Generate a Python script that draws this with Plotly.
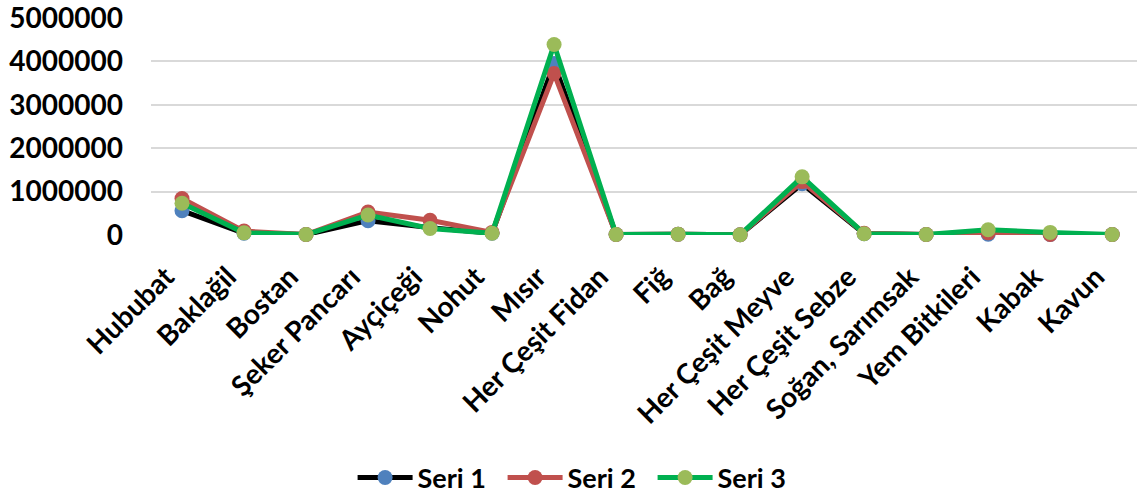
import plotly.graph_objects as go

categories = ['Hububat', 'Baklağil', 'Bostan', 'Şeker Pancarı', 'Ayçiçeği', 'Nohut', 'Mısır',
              'Her Çeşit Fidan', 'Fiğ', 'Bağ', 'Her Çeşit Meyve', 'Her Çeşit Sebze',
              'Soğan, Sarımsak', 'Yem Bitkileri', 'Kabak', 'Kavun']
seri_1 = [560000, 40000, 10000, 330000, 170000, 40000, 3950000, 10000, 20000, 5000,
          1180000, 30000, 10000, 20000, 10000, 10000]
seri_2 = [840000, 90000, 10000, 530000, 340000, 60000, 3720000, 10000, 20000, 5000,
          1230000, 40000, 10000, 50000, 10000, 10000]
seri_3 = [730000, 50000, 10000, 460000, 150000, 40000, 4390000, 10000, 20000, 5000,
          1340000, 30000, 10000, 120000, 60000, 10000]
y_ticks = [0, 1000000, 2000000, 3000000, 4000000, 5000000]

FONT = 'Lato'

fig = go.Figure()
for name, vals, line_col, mark_col in [
    ('Seri 1', seri_1, '#000000', '#4F81BD'),
    ('Seri 2', seri_2, '#C0504D', '#C0504D'),
    ('Seri 3', seri_3, '#00B050', '#9BBB59'),
]:
    fig.add_trace(go.Scatter(
        x=categories, y=vals, name=name, mode='lines+markers',
        line=dict(color=line_col, width=5),
        marker=dict(color=mark_col, size=15, line=dict(width=0)),
        cliponaxis=False
    ))

fig.update_layout(
    width=1137, height=500,
    margin=dict(l=151, r=0, t=18, b=265, autoexpand=False),
    paper_bgcolor='white',
    plot_bgcolor='white',
    font=dict(family=FONT, size=28, color='black'),
    showlegend=True,
    legend=dict(orientation='h', x=0.508, xref='container', xanchor='center',
                y=0.044, yref='container', yanchor='middle',
                font=dict(family=FONT, size=27, color='black', weight='bold'),
                itemwidth=55, entrywidth=80, tracegroupgap=0)
)
fig.update_xaxes(
    type='category', range=[-0.5, 15.4], showgrid=False, showline=False, automargin=False,
    tickangle=-45, ticklabelshift=-16, ticklabelstandoff=19,
    tickfont=dict(family=FONT, size=28, weight='bold')
)
fig.update_yaxes(
    range=[0, 5000000], tickvals=y_ticks, ticktext=[str(v) for v in y_ticks],
    showgrid=True, gridcolor='#D9D9D9', gridwidth=1.5, zeroline=False, showline=False,
    automargin=False, ticklabeloverflow='allow', ticklabelstandoff=27,
    tickfont=dict(family=FONT, size=28, weight='bold')
)

# drop the default 8px body margin so the figure fills the window
fig.write_html('out.html', config={'displayModeBar': False},
               post_script="document.body.style.margin='0px';")
